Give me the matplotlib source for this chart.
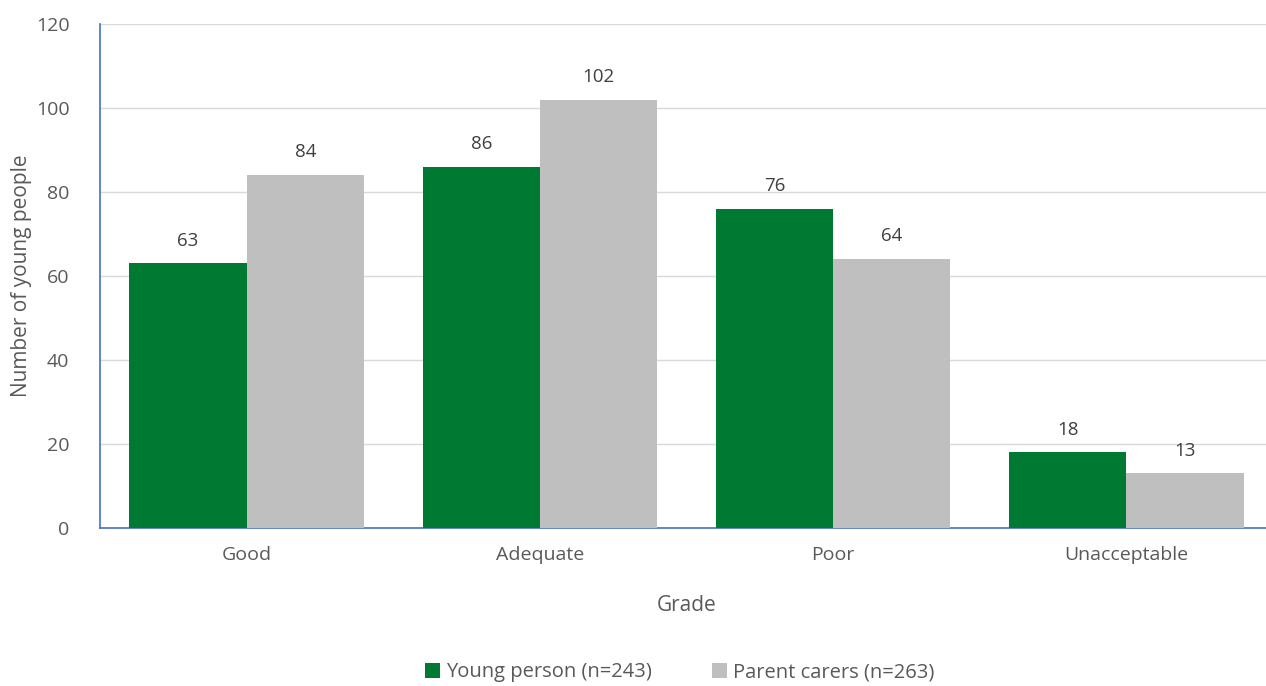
import matplotlib.pyplot as plt
import numpy as np

grades = ['Good', 'Adequate', 'Poor', 'Unacceptable']
young = [63, 86, 76, 18]
parents = [84, 102, 64, 13]
labels = ['Young person (n=243)', 'Parent carers (n=263)']

plt.rcParams['font.family'] = ['Open Sans', 'DejaVu Sans']
text_col = '#595959'

fig = plt.figure(figsize=(12.66, 6.86), dpi=100)
ax = fig.add_axes([0.079, 0.2303, 0.9265, 0.7347])

x = np.arange(len(grades))
w = 0.4
b1 = ax.bar(x - w / 2, young, w, color='#007A33', label=labels[0], zorder=3)
b2 = ax.bar(x + w / 2, parents, w, color='#BFBFBF', label=labels[1], zorder=3)

for bars in (b1, b2):
    for rect in bars:
        h = rect.get_height()
        ax.text(rect.get_x() + rect.get_width() / 2, h + 3.3, '{:d}'.format(int(h)),
                ha='center', va='bottom', fontsize=13.5, color='#404040')

ax.set_xlim(-0.5, 3.5)
ax.set_ylim(0, 120)
ax.set_yticks(range(0, 121, 20))
ax.set_xticks(x)
ax.set_xticklabels(grades)
ax.yaxis.grid(True, color='#D9D9D9', linewidth=1, zorder=0)
ax.tick_params(axis='both', length=0, labelsize=14, labelcolor=text_col)
ax.tick_params(axis='x', pad=13)
ax.tick_params(axis='y', pad=22)

for s in ['top', 'right']:
    ax.spines[s].set_visible(False)
ax.spines['left'].set_color('#4472C4')
ax.spines['bottom'].set_color('#4472C4')
ax.spines['left'].set_linewidth(1.2)
ax.spines['bottom'].set_linewidth(1.2)

ax.set_xlabel('Grade', fontsize=15, color=text_col, labelpad=22)
ax.set_ylabel('Number of young people', fontsize=15, color=text_col, labelpad=3)

fig.legend(loc='center', bbox_to_anchor=(0.537, 0.02), ncol=2, frameon=False,
           fontsize=14.5, handlelength=0.75, handleheight=0.75, handletextpad=0.3,
           columnspacing=3, labelcolor=text_col)

plt.savefig('out.png', dpi=100)
